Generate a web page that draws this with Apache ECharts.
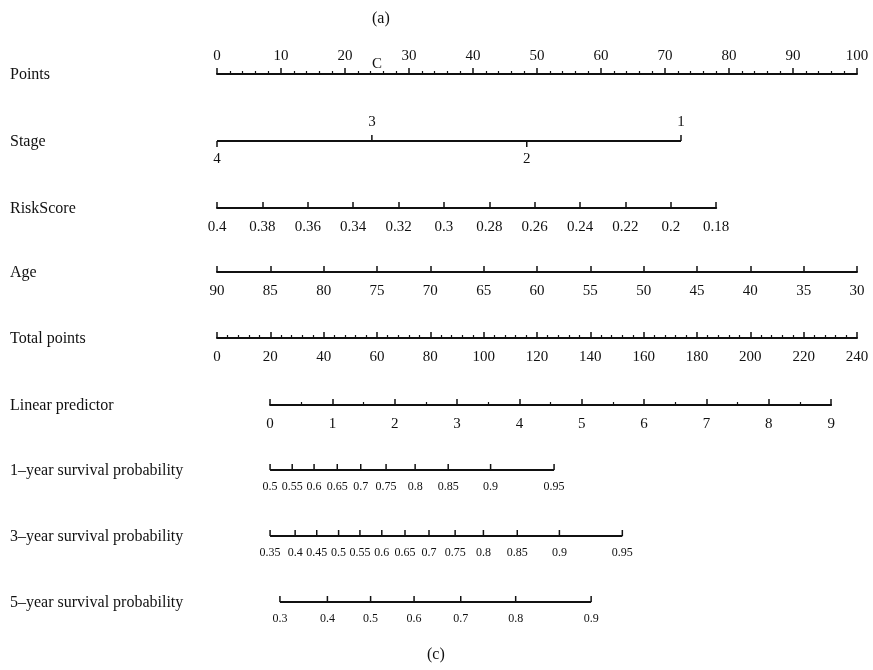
<!DOCTYPE html>
<html>
<head>
<meta charset="utf-8">
<script src="https://cdn.jsdelivr.net/npm/echarts@6/dist/echarts.min.js"></script>
<style>
  html, body { margin: 0; padding: 0; background: #fff; }
  #main { width: 873px; height: 670px; }
</style>
</head>
<body>
<div id="main"></div>
<script>
  // row names (left column)
  var rowNames = ['Points', 'Stage', 'RiskScore', 'Age', 'Total points', 'Linear predictor',
    '1\u2013year survival probability', '3\u2013year survival probability', '5\u2013year survival probability']

  // Stage: category -> points
  var stageLabels = ['4', '3', '2', '1']
  var stagePoints = [0, 24.2, 48.4, 72.5]

  // linear scales
  var pointsRange = [0, 100]
  var riskScoreRange = [0.18, 0.4]
  var riskScoreEndPoints = 78        // 0.18 sits at 78 points
  var ageRange = [30, 90]
  var totalPointsRange = [0, 240]
  var lpRange = [0, 9]
  var lpTotalPoints = [19.9, 230.3]  // linear predictor 0 and 9 on total points scale

  // survival probabilities -> total points
  var surv1Labels = ['0.5', '0.55', '0.6', '0.65', '0.7', '0.75', '0.8', '0.85', '0.9', '0.95']
  var surv1Points = [19.9, 28.2, 36.4, 45.1, 53.9, 63.4, 74.3, 86.7, 102.6, 126.4]
  var surv3Labels = ['0.35', '0.4', '0.45', '0.5', '0.55', '0.6', '0.65', '0.7', '0.75', '0.8', '0.85', '0.9', '0.95']
  var surv3Points = [19.9, 29.3, 37.4, 45.6, 53.6, 61.8, 70.5, 79.5, 89.3, 99.9, 112.6, 128.4, 152]
  var surv5Labels = ['0.3', '0.4', '0.5', '0.6', '0.7', '0.8', '0.9']
  var surv5Points = [23.6, 41.4, 57.6, 73.9, 91.4, 112, 140.3]

  var FONT = 'Liberation Serif'
  var INK = '#111'
  var X0 = 217      // left end of the points scale
  var XW = 640      // width of the points scale
  var rowY = [74, 141, 208, 272, 338, 405, 470, 536, 602]

  var myChart = echarts.init(document.getElementById('main'))

  var grids = []
  var xAxes = []
  var yAxes = []
  var series = []

  function addGrid (lineY, left, width, top) {
    grids.push({
      left: left,
      width: width,
      top: top ? lineY : lineY - 20,
      height: 20,
      containLabel: false
    })
    yAxes.push({ gridIndex: grids.length - 1, type: 'value', min: 0, max: 1, show: false })
    return grids.length - 1
  }

  // axis drawn by echarts itself
  function linearAxis (gi, range, interval, opt) {
    xAxes.push(Object.assign({
      gridIndex: gi,
      type: 'value',
      min: range[0],
      max: range[1],
      interval: interval,
      position: 'bottom',
      axisLine: { show: true, onZero: false, lineStyle: { color: INK, width: 2 } },
      axisTick: { show: true, inside: true, length: 6, lineStyle: { color: INK, width: 1.5 } },
      axisLabel: {
        show: true, margin: 12, color: INK, fontFamily: FONT, fontSize: 15,
        showMinLabel: true, showMaxLabel: true, hideOverlap: false
      },
      splitLine: { show: false }
    }, opt))
  }

  // hidden axis + custom ticks (for non-uniform scales)
  function tickRow (gi, range, pts, labels, tickSide, labelSide, fontSize, gap) {
    xAxes.push({ gridIndex: gi, type: 'value', min: range[0], max: range[1], show: false })
    var xi = xAxes.length - 1
    series.push({
      type: 'line',
      xAxisIndex: xi,
      yAxisIndex: gi,
      data: [[pts[0], 0], [pts[pts.length - 1], 0]],
      symbol: 'none',
      silent: true,
      lineStyle: { color: INK, width: 2 }
    })
    series.push({
      type: 'custom',
      xAxisIndex: xi,
      yAxisIndex: gi,
      silent: true,
      data: pts.map(function (p) { return [p, 0] }),
      renderItem: function (params, api) {
        var c = api.coord([api.value(0), 0])
        var i = params.dataIndex
        var tUp = tickSide[i] === 'up'
        var lUp = labelSide[i] === 'up'
        return {
          type: 'group',
          children: [{
            type: 'line',
            shape: { x1: c[0], y1: c[1], x2: c[0], y2: tUp ? c[1] - 6 : c[1] + 6 },
            style: { stroke: INK, lineWidth: 1.5 }
          }, {
            type: 'text',
            x: c[0],
            y: lUp ? c[1] - gap : c[1] + gap,
            style: {
              text: labels[i],
              fill: INK,
              font: fontSize + 'px "' + FONT + '"',
              align: 'center',
              verticalAlign: lUp ? 'bottom' : 'top'
            }
          }]
        }
      }
    })
  }

  // Points
  var g = addGrid(rowY[0], X0, XW, true)
  linearAxis(g, pointsRange, 10, {
    position: 'top',
    axisTick: { show: true, inside: false, length: 6, lineStyle: { color: INK, width: 1.5 } },
    minorTick: { show: true, splitNumber: 5, length: 3, lineStyle: { color: INK, width: 1.2 } },
    axisLabel: { show: true, margin: 10, color: INK, fontFamily: FONT, fontSize: 15, hideOverlap: false }
  })

  // Stage
  g = addGrid(rowY[1], X0, XW, false)
  tickRow(g, pointsRange, stagePoints, stageLabels,
    ['down', 'up', 'down', 'up'], ['down', 'up', 'down', 'up'], 15, 11)

  // RiskScore
  g = addGrid(rowY[2], X0, XW * riskScoreEndPoints / 100, false)
  linearAxis(g, riskScoreRange, 0.02, { inverse: true })

  // Age
  g = addGrid(rowY[3], X0, XW, false)
  linearAxis(g, ageRange, 5, { inverse: true })

  // Total points
  g = addGrid(rowY[4], X0, XW, false)
  linearAxis(g, totalPointsRange, 20, {
    minorTick: { show: true, splitNumber: 5, length: 3, lineStyle: { color: INK, width: 1.2 } }
  })

  // Linear predictor
  var lpLeft = X0 + XW * lpTotalPoints[0] / totalPointsRange[1]
  var lpRight = X0 + XW * lpTotalPoints[1] / totalPointsRange[1]
  g = addGrid(rowY[5], lpLeft, lpRight - lpLeft, false)
  linearAxis(g, lpRange, 1, {
    minorTick: { show: true, splitNumber: 2, length: 3, lineStyle: { color: INK, width: 1.2 } }
  })

  // survival probabilities
  var survRows = [[surv1Points, surv1Labels], [surv3Points, surv3Labels], [surv5Points, surv5Labels]]
  survRows.forEach(function (r, k) {
    var gi = addGrid(rowY[6 + k], X0, XW, false)
    var up = r[0].map(function () { return 'up' })
    var dn = r[0].map(function () { return 'down' })
    tickRow(gi, totalPointsRange, r[0], r[1], up, dn, 12, 11)
  })

  // texts
  var graphic = rowNames.map(function (n, i) {
    return {
      type: 'text', left: 10, top: rowY[i] - 7,
      style: { text: n, fill: INK, font: '16px "' + FONT + '"' }
    }
  })
  graphic.push({ type: 'text', left: 372, top: 11, style: { text: '(a)', fill: INK, font: '16px "' + FONT + '"' } })
  graphic.push({ type: 'text', left: 427, top: 647, style: { text: '(c)', fill: INK, font: '16px "' + FONT + '"' } })
  graphic.push({ type: 'text', left: 372, top: 57, style: { text: 'C', fill: INK, font: '15px "' + FONT + '"' } })

  try {
    myChart.setOption({
      animation: false,
      backgroundColor: '#fff',
      grid: grids,
      xAxis: xAxes,
      yAxis: yAxes,
      series: series,
      graphic: graphic
    })
  } catch (e) {
    console.log(e + ' setOption failed')
  }
</script>
</body>
</html>
